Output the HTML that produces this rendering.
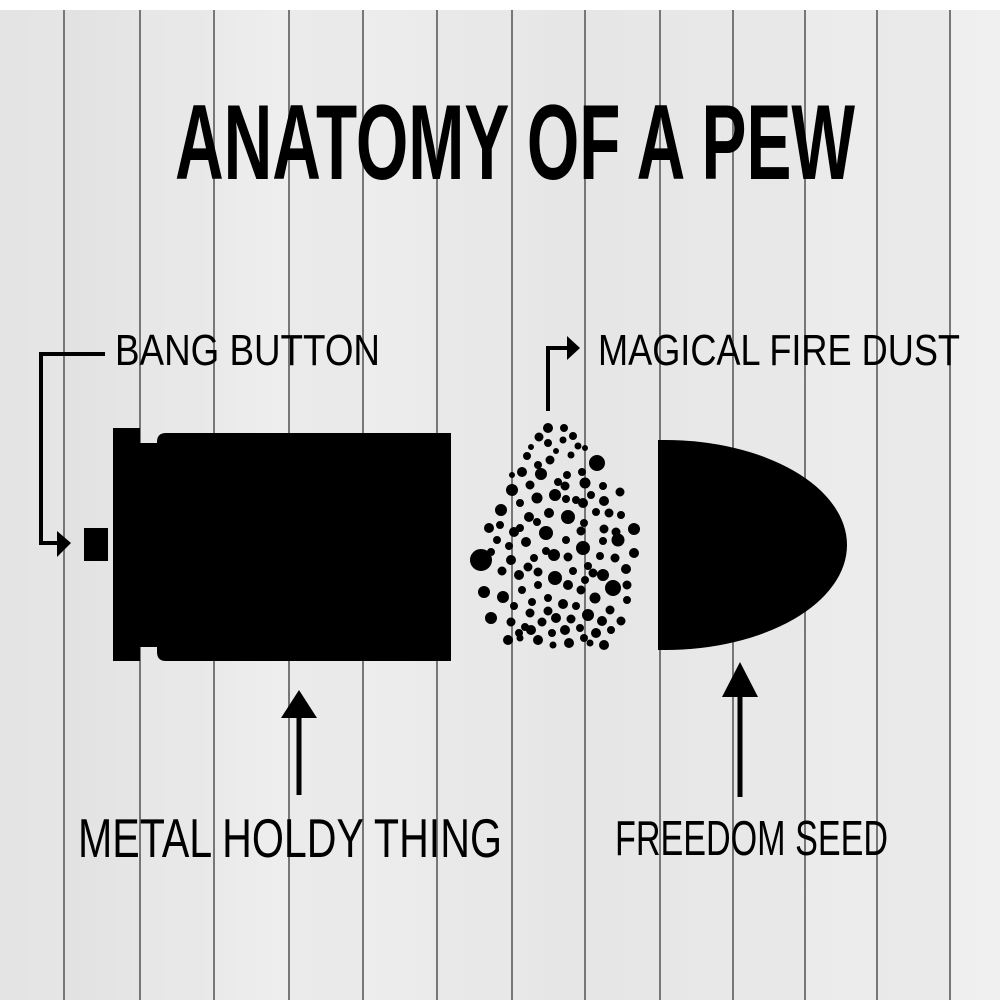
<!DOCTYPE html>
<html><head><meta charset="utf-8"><style>
html,body{margin:0;padding:0;background:#fff}
svg{display:block}
</style></head><body>
<svg width="1000" height="1000" viewBox="0 0 1000 1000" xmlns="http://www.w3.org/2000/svg">
<defs>
<linearGradient id="pl" x1="0" x2="1" y1="0" y2="0">
<stop offset="0" stop-color="#dedede"/><stop offset="0.3" stop-color="#efefef"/><stop offset="0.6" stop-color="#e5e5e5"/><stop offset="1" stop-color="#f0f0f0"/>
</linearGradient>
</defs>
<rect x="0" y="0" width="1000" height="1000" fill="#fff"/>
<rect x="0" y="10" width="1000" height="990" fill="url(#pl)"/>
<g fill="#e8e8e8" opacity="0.6">
<rect x="0" y="10" width="64" height="990"/><rect x="140" y="10" width="74" height="990"/><rect x="289" y="10" width="74" height="990"/><rect x="437" y="10" width="75" height="990"/><rect x="585" y="10" width="75" height="990"/><rect x="733" y="10" width="72" height="990"/><rect x="877" y="10" width="73" height="990"/>
</g>
<g stroke="#777" stroke-width="2">
<line x1="64" y1="10" x2="64" y2="1000"/><line x1="140" y1="10" x2="140" y2="1000"/><line x1="214" y1="10" x2="214" y2="1000"/><line x1="289" y1="10" x2="289" y2="1000"/><line x1="363" y1="10" x2="363" y2="1000"/><line x1="437" y1="10" x2="437" y2="1000"/><line x1="512" y1="10" x2="512" y2="1000"/><line x1="585" y1="10" x2="585" y2="1000"/><line x1="660" y1="10" x2="660" y2="1000"/><line x1="733" y1="10" x2="733" y2="1000"/><line x1="805" y1="10" x2="805" y2="1000"/><line x1="877" y1="10" x2="877" y2="1000"/><line x1="950" y1="10" x2="950" y2="1000"/>
</g>

<text x="175" y="179" font-family="Liberation Sans, sans-serif" font-weight="bold" font-size="107" textLength="680" lengthAdjust="spacingAndGlyphs" fill="#000">ANATOMY OF A PEW</text>

<g font-family="Liberation Sans, sans-serif" fill="#000">
<text x="115" y="365" font-size="44" textLength="265" lengthAdjust="spacingAndGlyphs">BANG BUTTON</text>
<text x="598" y="365" font-size="44" textLength="362" lengthAdjust="spacingAndGlyphs">MAGICAL FIRE DUST</text>
<text x="78" y="857" font-size="55" textLength="424" lengthAdjust="spacingAndGlyphs">METAL HOLDY THING</text>
<text x="615" y="855" font-size="49" textLength="273" lengthAdjust="spacingAndGlyphs">FREEDOM SEED</text>
</g>

<!-- casing -->
<rect x="113" y="428" width="27" height="233" fill="#000"/>
<rect x="138" y="443" width="24" height="204" fill="#000"/>
<path d="M166,433 L451,433 L451,661 L166,661 Q157,661 157,652 L157,442 Q157,433 166,433 Z" fill="#000"/>
<rect x="84" y="528" width="24" height="33" fill="#000"/>

<!-- bang arrow -->
<polyline points="105,354 41,354 41,543 60,543" fill="none" stroke="#000" stroke-width="4"/>
<polygon points="57,531 71,543 57,557" fill="#000"/>

<!-- magical arrow -->
<polyline points="548,411 548,348 568,348" fill="none" stroke="#000" stroke-width="4"/>
<polygon points="567,336 580,348 567,360" fill="#000"/>

<!-- bullet -->
<path d="M658,440 L665,440 A182,105 0 0 1 665,650 L658,650 Z" fill="#000"/>

<!-- metal arrow -->
<line x1="299" y1="795" x2="299" y2="712" stroke="#000" stroke-width="5"/>
<polygon points="281,718 299,690 317,718" fill="#000"/>
<!-- freedom arrow -->
<line x1="740" y1="797" x2="740" y2="690" stroke="#000" stroke-width="5"/>
<polygon points="722,697 740,662 758,697" fill="#000"/>

<!-- dust -->
<g fill="#000" stroke="#000" stroke-width="2">
<circle cx="548" cy="428" r="4"/><circle cx="564" cy="428" r="3"/><circle cx="539" cy="437" r="3.5"/><circle cx="573" cy="436" r="3"/><circle cx="548" cy="443" r="3"/><circle cx="563" cy="440" r="2.5"/><circle cx="578" cy="446" r="2.5"/><circle cx="585" cy="448" r="2"/><circle cx="531" cy="447" r="2"/><circle cx="556" cy="451" r="2"/>
<circle cx="597" cy="463" r="7"/><circle cx="527" cy="456" r="3"/><circle cx="550" cy="460" r="3.5"/><circle cx="571" cy="455" r="2.5"/><circle cx="538" cy="465" r="3"/><circle cx="582" cy="472" r="3"/>
<circle cx="522" cy="472" r="4"/><circle cx="541" cy="474" r="5"/><circle cx="512" cy="475" r="2"/><circle cx="567" cy="475" r="3"/><circle cx="558" cy="482" r="3"/><circle cx="585" cy="483" r="4.5"/><circle cx="530" cy="485" r="3.5"/><circle cx="565" cy="486" r="3.5"/><circle cx="591" cy="495" r="3"/><circle cx="603" cy="486" r="3"/>
<circle cx="512" cy="490" r="5"/><circle cx="555" cy="495" r="5"/><circle cx="537" cy="498" r="4.5"/><circle cx="576" cy="500" r="3"/><circle cx="583" cy="503" r="4"/><circle cx="604" cy="501" r="4"/><circle cx="520" cy="503" r="3"/><circle cx="566" cy="499" r="3"/><circle cx="620" cy="492" r="3.5"/>
<circle cx="501" cy="510" r="5"/><circle cx="568" cy="517" r="6"/><circle cx="529" cy="517" r="4"/><circle cx="549" cy="513" r="4"/><circle cx="596" cy="512" r="3"/><circle cx="609" cy="513" r="3.5"/><circle cx="621" cy="515" r="3"/><circle cx="500" cy="525" r="3"/><circle cx="584" cy="523" r="3"/><circle cx="537" cy="522" r="3"/>
<circle cx="489" cy="528" r="4"/><circle cx="514" cy="532" r="4"/><circle cx="634" cy="529" r="5"/><circle cx="546" cy="533" r="6"/><circle cx="520" cy="528" r="3"/><circle cx="581" cy="531" r="3.5"/><circle cx="604" cy="529" r="3.5"/><circle cx="616" cy="532" r="3.5"/>
<circle cx="497" cy="540" r="3"/><circle cx="509" cy="546" r="3"/><circle cx="526" cy="542" r="4"/><circle cx="566" cy="540" r="3"/><circle cx="618" cy="540" r="5.5"/><circle cx="583" cy="548" r="6"/><circle cx="546" cy="551" r="3"/><circle cx="603" cy="541" r="3"/><circle cx="491" cy="552" r="3"/>
<circle cx="481" cy="560" r="10"/><circle cx="511" cy="560" r="4"/><circle cx="554" cy="555" r="5"/><circle cx="534" cy="558" r="3"/><circle cx="568" cy="557" r="3.5"/><circle cx="600" cy="556" r="3"/><circle cx="615" cy="558" r="3.5"/><circle cx="634" cy="553" r="4"/><circle cx="588" cy="566" r="3"/><circle cx="528" cy="567" r="3.5"/>
<circle cx="502" cy="571" r="3.5"/><circle cx="519" cy="575" r="4"/><circle cx="538" cy="572" r="3.5"/><circle cx="555" cy="578" r="6"/><circle cx="573" cy="571" r="3"/><circle cx="593" cy="573" r="3.5"/><circle cx="603" cy="575" r="5"/><circle cx="626" cy="569" r="4"/><circle cx="585" cy="580" r="3"/>
<circle cx="484" cy="592" r="5"/><circle cx="503" cy="597" r="5"/><circle cx="613" cy="588" r="7"/><circle cx="538" cy="585" r="3"/><circle cx="568" cy="585" r="4"/><circle cx="581" cy="590" r="3.5"/><circle cx="627" cy="585" r="3.5"/><circle cx="522" cy="590" r="3"/><circle cx="595" cy="598" r="4.5"/><circle cx="548" cy="598" r="3"/>
<circle cx="532" cy="602" r="3"/><circle cx="563" cy="604" r="4"/><circle cx="576" cy="606" r="3"/><circle cx="627" cy="600" r="3"/><circle cx="514" cy="606" r="3"/><circle cx="610" cy="610" r="3.5"/><circle cx="530" cy="613" r="3.5"/><circle cx="548" cy="611" r="3.5"/><circle cx="556" cy="618" r="4"/>
<circle cx="491" cy="618" r="5"/><circle cx="588" cy="615" r="5"/><circle cx="511" cy="622" r="3.5"/><circle cx="542" cy="622" r="3.5"/><circle cx="571" cy="619" r="3.5"/><circle cx="602" cy="621" r="4"/><circle cx="621" cy="621" r="3.5"/><circle cx="525" cy="627" r="3"/><circle cx="580" cy="628" r="3"/>
<circle cx="519" cy="633" r="3"/><circle cx="531" cy="630" r="4"/><circle cx="552" cy="633" r="3"/><circle cx="565" cy="630" r="4"/><circle cx="596" cy="633" r="4"/><circle cx="611" cy="630" r="3"/><circle cx="584" cy="638" r="3"/>
<circle cx="508" cy="640" r="4"/><circle cx="538" cy="640" r="4"/><circle cx="569" cy="643" r="4"/><circle cx="604" cy="645" r="4"/><circle cx="520" cy="638" r="2.5"/><circle cx="553" cy="645" r="2.5"/><circle cx="590" cy="643" r="2.5"/>
</g>
</svg>
</body></html>
